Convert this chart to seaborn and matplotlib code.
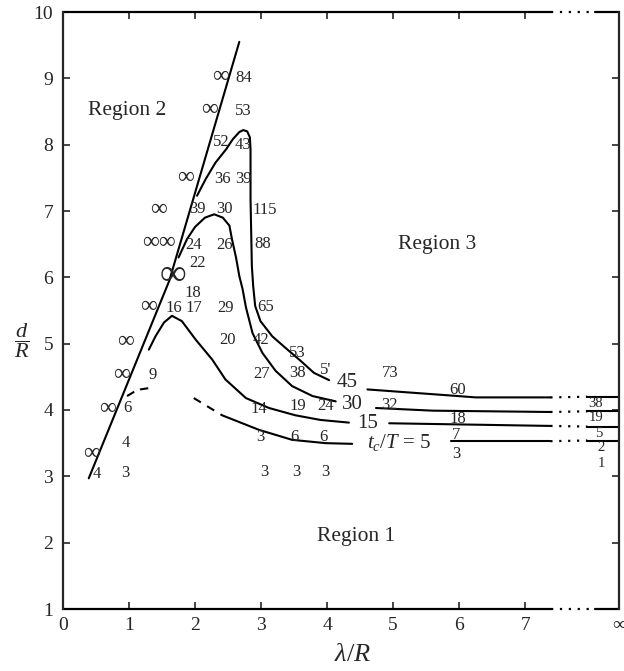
import numpy as np
import pandas as pd
import matplotlib
matplotlib.use("Agg")
import matplotlib.pyplot as plt
import seaborn as sns

sns.set_style("ticks")
plt.rcParams['font.family'] = ['Liberation Serif', 'DejaVu Serif']
plt.rcParams['mathtext.fontset'] = 'custom'
plt.rcParams['mathtext.rm'] = 'Liberation Serif'
plt.rcParams['mathtext.it'] = 'Liberation Serif:italic'
plt.rcParams['mathtext.bf'] = 'Liberation Serif:bold'

# ---------------- data ----------------
INF_X = 8.42          # position of the "infinity" column on the lambda/R axis
BREAK_X = [7.38, 7.94]  # dotted break before infinity

x_ticks = [0, 1, 2, 3, 4, 5, 6, 7, INF_X]
x_tick_labels = ["0", "1", "2", "3", "4", "5", "6", "7", "∞"]
y_ticks = [1, 2, 3, 4, 5, 6, 7, 8, 9, 10]

# Region 2 boundary line
boundary_x = [0.39, 1.61, 2.67]
boundary_y = [2.97, 5.95, 9.55]

# t_c/T = 45
c45_x = [2.03, 2.16, 2.31, 2.47, 2.57, 2.67, 2.73, 2.79, 2.83, 2.84, 2.84, 2.85,
         2.86, 2.88, 2.91, 2.99, 3.17, 3.40, 3.60, 3.80, 4.03]
c45_y = [7.23, 7.48, 7.73, 7.93, 8.08, 8.19, 8.22, 8.20, 8.11, 7.93, 7.18, 6.68,
         6.17, 5.87, 5.57, 5.34, 5.11, 4.91, 4.74, 4.56, 4.45]
c45_right_x = [4.61, 5.85, 6.25, 7.38]
c45_right_y = [4.31, 4.22, 4.19, 4.19]
c45_inf = 4.20

# t_c/T = 30
c30_x = [1.75, 1.88, 2.00, 2.15, 2.29, 2.42, 2.52, 2.56, 2.62, 2.67, 2.72, 2.77,
         2.87, 3.02, 3.22, 3.47, 3.78, 4.13]
c30_y = [6.30, 6.58, 6.76, 6.90, 6.95, 6.90, 6.78, 6.57, 6.30, 6.02, 5.82, 5.55,
         5.16, 4.86, 4.59, 4.36, 4.21, 4.13]
c30_right_x = [4.74, 5.60, 7.38]
c30_right_y = [4.03, 3.99, 3.97]
c30_inf = 3.98

# t_c/T = 15
c15_x = [1.30, 1.40, 1.53, 1.65, 1.80, 2.01, 2.26, 2.46, 2.77, 3.12, 3.52, 3.90, 4.33]
c15_y = [4.91, 5.11, 5.32, 5.42, 5.34, 5.06, 4.76, 4.46, 4.18, 4.03, 3.92, 3.85, 3.81]
c15_right_x = [4.94, 7.38]
c15_right_y = [3.80, 3.76]
c15_inf = 3.75

# t_c/T = 5
c5_dash_left_x = [0.97, 1.07, 1.17, 1.30]
c5_dash_left_y = [4.21, 4.27, 4.31, 4.33]
c5_dash_x = [1.98, 2.41]
c5_dash_y = [4.18, 3.92]
c5_x = [2.41, 2.97, 3.47, 3.98, 4.38]
c5_y = [3.92, 3.70, 3.55, 3.50, 3.49]
c5_right_x = [5.87, 7.38]
c5_right_y = [3.53, 3.53]
c5_inf = 3.54

# numbers written on the chart
num_text = ["84", "53", "52", "43", "36", "39", "39", "30", "115", "24", "26", "88",
            "22", "18", "16", "17", "29", "65", "20", "42", "53", "9", "27", "38",
            "5'", "6", "14", "19", "24", "4", "3", "6", "6", "4", "3", "3", "3", "3",
            "73", "60", "32", "18", "7", "3"]
num_x = [2.73, 2.73, 2.39, 2.73, 2.41, 2.73, 2.03, 2.45, 3.05, 1.98, 2.45, 3.03,
         2.03, 1.96, 1.68, 1.98, 2.46, 3.07, 2.49, 3.00, 3.55, 1.35, 3.00, 3.55,
         3.98, 0.97, 2.97, 3.55, 3.98, 0.95, 2.99, 3.50, 3.95, 0.51, 0.95, 3.05, 3.54, 3.98,
         4.96, 5.97, 4.95, 5.98, 5.95, 5.96]
num_y = [9.01, 8.51, 8.04, 8.00, 7.48, 7.48, 7.03, 7.03, 7.02, 6.49, 6.49, 6.50,
         6.22, 5.77, 5.54, 5.54, 5.54, 5.56, 5.05, 5.05, 4.86, 4.53, 4.55, 4.56,
         4.61, 4.03, 4.01, 4.06, 4.06, 3.51, 3.59, 3.59, 3.59, 3.04, 3.05, 3.07, 3.07, 3.07,
         4.56, 4.30, 4.08, 3.86, 3.63, 3.34]

# numbers in the infinity column
inf_col_text = ["38", "19", "5", "2", "1"]
inf_col_x = [8.07, 8.08, 8.12, 8.14, 8.15]
inf_col_y = [4.10, 3.89, 3.65, 3.43, 3.19]

# infinity marks (count of symbols)
inf_x = [2.39, 2.22, 1.85, 1.44, 1.45, 1.29, 0.95, 0.89, 0.67, 0.44]
inf_y = [9.03, 8.53, 7.50, 7.03, 6.52, 5.56, 5.04, 4.53, 4.03, 3.34]
inf_n = [1, 1, 1, 1, 2, 1, 1, 1, 1, 1]
big_inf_x, big_inf_y = 1.66, 6.03

curve_label_text = ["45", "30", "15", "$t_c/T$ = 5"]
curve_label_x = [4.31, 4.38, 4.61, 5.09]
curve_label_y = [4.41, 4.08, 3.79, 3.51]

region_text = ["Region 2", "Region 3", "Region 1"]
region_x = [0.97, 5.67, 4.44]
region_y = [8.52, 6.50, 2.09]

# ---------------- figure ----------------
fig = plt.figure(figsize=(6.24, 6.71), dpi=100)
ax = fig.add_axes([63 / 624, 1 - 609 / 671, 556 / 624, 597 / 671])

LW = 1.5
def seg(x, y, ls="-", lw=LW):
    df = pd.DataFrame({"x": x, "y": y})
    sns.lineplot(data=df, x="x", y="y", ax=ax, color="black", linewidth=lw,
                 linestyle=ls, sort=False, estimator=None)

seg(boundary_x, boundary_y)
dotted = (0, (1, 3))
for cx, cy, rx, ry, yinf in [
        (c45_x, c45_y, c45_right_x, c45_right_y, c45_inf),
        (c30_x, c30_y, c30_right_x, c30_right_y, c30_inf),
        (c15_x, c15_y, c15_right_x, c15_right_y, c15_inf),
        (c5_x, c5_y, c5_right_x, c5_right_y, c5_inf)]:
    seg(cx, cy)
    seg(rx, ry)
    seg([BREAK_X[0], BREAK_X[1]], [ry[-1], yinf], ls=dotted, lw=1.6)
    seg([BREAK_X[1], INF_X], [yinf, yinf])
seg(c5_dash_left_x, c5_dash_left_y, ls=(0, (4, 3)))
seg(c5_dash_x, c5_dash_y, ls=(0, (4, 3.5)))

for t, x, y in zip(num_text, num_x, num_y):
    ax.text(x, y, t, fontsize=12, ha="center", va="center")
for t, x, y in zip(inf_col_text, inf_col_x, inf_col_y):
    ax.text(x, y, t, fontsize=10.5, ha="center", va="center")
for x, y, n in zip(inf_x, inf_y, inf_n):
    ax.text(x, y, "∞" * n, fontsize=17, ha="center", va="center")
ax.text(big_inf_x, big_inf_y, "∞", fontsize=27, ha="center", va="center")
for t, x, y in zip(curve_label_text, curve_label_x, curve_label_y):
    ax.text(x, y, t, fontsize=15, ha="center", va="center")
for t, x, y in zip(region_text, region_x, region_y):
    ax.text(x, y, t, fontsize=15.5, ha="center", va="center")

ax.set_xlim(0, INF_X)
ax.set_ylim(1, 10)
ax.set_xticks(x_ticks)
ax.set_xticklabels(x_tick_labels)
ax.set_yticks(y_ticks)
ax.tick_params(direction="in", length=5, width=1.2, top=True, right=True,
               labelsize=14)
ax.tick_params(axis="x", pad=6)
ax.tick_params(axis="y", pad=7)

for s in ["left", "right"]:
    ax.spines[s].set_linewidth(1.6)
for s in ["top", "bottom"]:
    ax.spines[s].set_visible(False)
tr = ax.get_xaxis_transform()
for yy in (0, 1):
    ax.plot([0, 7.39], [yy, yy], transform=tr, color="k", lw=1.6, clip_on=False)
    ax.plot([7.39, 8.05], [yy, yy], transform=tr, color="k", lw=1.6,
            ls=dotted, clip_on=False)
    ax.plot([8.05, INF_X], [yy, yy], transform=tr, color="k", lw=1.6, clip_on=False)

ax.set_xlabel(r"$\lambda/R$", fontsize=19)
ax.xaxis.set_label_coords(0.52, -0.077)
ax.xaxis.label.set_va("center")
ax.set_ylabel(r"$\dfrac{d}{R}$", fontsize=16, rotation=0)
ax.yaxis.set_label_coords(-0.074, 0.45)
ax.yaxis.label.set_va("center")

fig.savefig("out.png", dpi=100)
